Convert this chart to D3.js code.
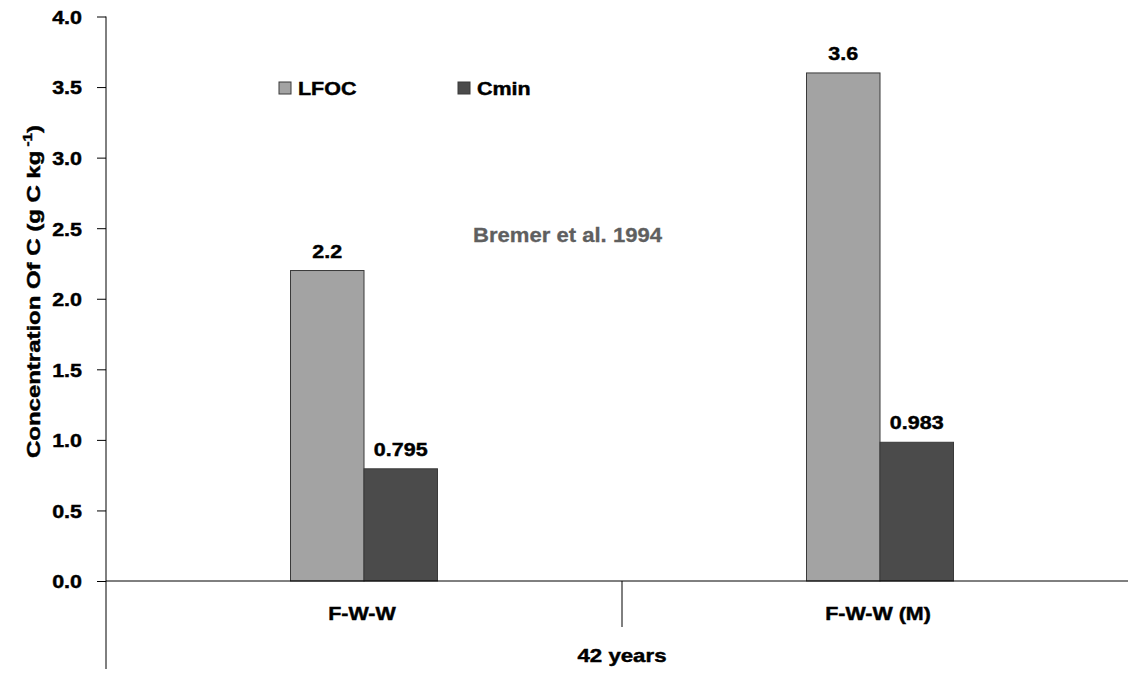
<!DOCTYPE html>
<html>
<head>
<meta charset="utf-8">
<script src="https://cdn.jsdelivr.net/npm/d3@7"></script>
<style>
  html, body { margin: 0; padding: 0; background: #fff; }
  svg { display: block; }
  text { font-family: "Liberation Sans", Arial, sans-serif; font-weight: bold; fill: #000; stroke: #000; stroke-width: 0.45px; }
  text.note { fill: #5f5f5f; stroke: #5f5f5f; stroke-width: 0.3px; }
</style>
</head>
<body>
<svg id="chart" width="1128" height="673"></svg>
<script>
// Treatments (inner category level) and the shared outer label
const categories = ["F-W-W", "F-W-W (M)"];
const groupLabel = "42 years";

// Series and their values, g C per kg
const seriesNames = ["LFOC", "Cmin"];
const lfoc = [2.2, 3.6];
const cmin = [0.795, 0.983];
const valueLabels = [["2.2", "3.6"], ["0.795", "0.983"]];

// Axis ticks
const yTicks = [0, 0.5, 1.0, 1.5, 2.0, 2.5, 3.0, 3.5, 4.0];

const colors = { LFOC: "#a3a3a3", Cmin: "#4b4b4b" };

const svg = d3.select("#chart");
const plotLeft = 106, plotTop = 16.5, plotBottom = 581, bandStep = 516;
const fontSize = "19px";
const widen = 1.13;

// Slightly widened glyphs, as in the original typesetting
function stretch(sel, k) {
  sel.each(function () {
    const len = this.getComputedTextLength();
    d3.select(this).attr("textLength", len * k).attr("lengthAdjust", "spacingAndGlyphs");
  });
}

const y = d3.scaleLinear().domain([0, 4]).range([plotBottom, plotTop]);
const x = d3.scaleBand().domain(categories).range([plotLeft, plotLeft + bandStep * categories.length]).padding(0);
const barW = 73.5;
const xs = d3.scaleBand().domain(seriesNames).range([0, barW * 2]).padding(0);

const seriesData = [lfoc, cmin];

// Bars with value labels
seriesNames.forEach((name, si) => {
  const rows = categories.map((c, i) => ({ c, v: seriesData[si][i], label: valueLabels[si][i] }));
  const g = svg.append("g");
  g.selectAll("rect")
    .data(rows)
    .join("rect")
    .attr("x", d => x(d.c) + x.bandwidth() / 2 - barW + xs(name))
    .attr("y", d => y(d.v))
    .attr("width", xs.bandwidth())
    .attr("height", d => y(0) - y(d.v))
    .attr("fill", colors[name])
    .attr("stroke", "#3a3a3a")
    .attr("stroke-width", 1);
  g.selectAll("text")
    .data(rows)
    .join("text")
    .attr("x", d => x(d.c) + x.bandwidth() / 2 - barW + xs(name) + xs.bandwidth() / 2)
    .attr("y", d => y(d.v) - 13)
    .attr("text-anchor", "middle")
    .style("font-size", fontSize)
    .text(d => d.label)
    .call(stretch, widen);
});

// Y axis
const yAxis = d3.axisLeft(y).tickValues(yTicks).tickFormat(d3.format(".1f")).tickSize(9).tickPadding(15);
const ya = svg.append("g").attr("transform", `translate(${plotLeft},0)`).call(yAxis);
ya.select(".domain").remove();
ya.selectAll("line").attr("stroke", "#000");
ya.selectAll("text").style("font-size", fontSize).attr("dy", "0.36em").call(stretch, widen);
svg.append("line").attr("x1", plotLeft).attr("x2", plotLeft).attr("y1", plotTop).attr("y2", 669).attr("stroke", "#000");

// X axis line and category separators
svg.append("line").attr("x1", plotLeft).attr("x2", 1128).attr("y1", plotBottom).attr("y2", plotBottom).attr("stroke", "#000");
categories.slice(1).forEach(c => {
  svg.append("line").attr("x1", x(c)).attr("x2", x(c)).attr("y1", plotBottom).attr("y2", 627).attr("stroke", "#000");
});
svg.selectAll(".cat").data(categories).join("text")
  .attr("class", "cat")
  .attr("x", d => x(d) + x.bandwidth() / 2 - 2)
  .attr("y", 620)
  .attr("text-anchor", "middle")
  .style("font-size", fontSize)
  .text(d => d)
  .call(stretch, widen);
svg.append("text").attr("x", 622).attr("y", 662).attr("text-anchor", "middle")
  .style("font-size", fontSize).text(groupLabel).call(stretch, 1.17);

// Y axis title
const yt = svg.append("text").attr("text-anchor", "middle").style("font-size", fontSize);
yt.append("tspan").text("Concentration Of C (g C kg");
yt.append("tspan").attr("dy", -8).style("font-size", "12px").text(" -1");
yt.append("tspan").attr("dy", 8).text(")");
const ytLen = yt.node().getComputedTextLength();
yt.attr("transform", `translate(40,291.5) rotate(-90) scale(${333 / ytLen},1)`);

// Legend
const legendX = [279, 458];
seriesNames.forEach((name, i) => {
  svg.append("rect").attr("x", legendX[i]).attr("y", 82).attr("width", 12).attr("height", 12)
    .attr("fill", colors[name]).attr("stroke", "#3a3a3a");
  svg.append("text").attr("x", legendX[i] + 19).attr("y", 94.5).style("font-size", fontSize)
    .text(name).call(stretch, widen);
});

// Source note
svg.append("text").attr("class", "note").attr("x", 473).attr("y", 242).style("font-size", "20px")
  .text("Bremer et al. 1994")
  .attr("textLength", 189).attr("lengthAdjust", "spacingAndGlyphs");
</script>
</body>
</html>
